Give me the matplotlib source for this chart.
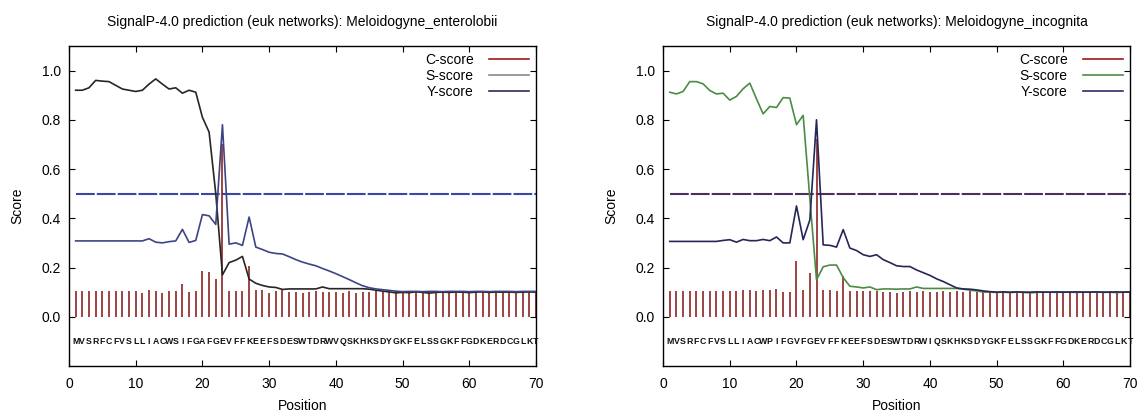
import numpy as np
import matplotlib
matplotlib.use("Agg")
import matplotlib.pyplot as plt

plt.rcParams['font.family'] = ['Liberation Sans', 'DejaVu Sans']

#%% data
positions = np.arange(1, 71)

titles = ["SignalP-4.0 prediction (euk networks): Meloidogyne_enterolobii",
          "SignalP-4.0 prediction (euk networks): Meloidogyne_incognita"]

seq_enterolobii = "MVSRFCFVSLLIACWSIFGAFGEVFFKEEFSDESWTDRWVQSKHKSDYGKFELSSGKFFGDKERDCGLKT"
seq_incognita = "MVSRFCFVSLLIACWPIFGVFGEVFFKEEFSDESWTDRWIQSKHKSDYGKFELSSGKFFGDKERDCGLKT"

c_enterolobii = [0.103, 0.103, 0.103, 0.103, 0.103, 0.103, 0.103, 0.103, 0.103, 0.103,
                 0.098, 0.107, 0.103, 0.097, 0.103, 0.103, 0.135, 0.100, 0.103, 0.186,
                 0.183, 0.155, 0.700, 0.103, 0.105, 0.103, 0.207, 0.110, 0.107, 0.098,
                 0.105, 0.107, 0.100, 0.100, 0.095, 0.100, 0.105, 0.100, 0.100, 0.100,
                 0.098, 0.105, 0.097, 0.100, 0.100, 0.105, 0.103, 0.100, 0.103, 0.103,
                 0.100, 0.103, 0.100, 0.103, 0.100, 0.103, 0.100, 0.102, 0.100, 0.103,
                 0.100, 0.103, 0.100, 0.102, 0.100, 0.103, 0.100, 0.100, 0.103, 0.100]
s_enterolobii = [0.920, 0.920, 0.930, 0.960, 0.957, 0.955, 0.940, 0.925, 0.920, 0.915,
                 0.920, 0.945, 0.966, 0.945, 0.925, 0.930, 0.908, 0.920, 0.912, 0.810,
                 0.750, 0.500, 0.170, 0.220, 0.230, 0.245, 0.153, 0.136, 0.127, 0.121,
                 0.119, 0.111, 0.113, 0.113, 0.113, 0.113, 0.113, 0.121, 0.114, 0.114,
                 0.114, 0.114, 0.114, 0.114, 0.112, 0.108, 0.104, 0.101, 0.097, 0.099,
                 0.098, 0.101, 0.099, 0.096, 0.099, 0.100, 0.099, 0.100, 0.100, 0.098,
                 0.100, 0.101, 0.099, 0.100, 0.100, 0.100, 0.099, 0.100, 0.101, 0.100]
y_enterolobii = [0.308, 0.308, 0.308, 0.308, 0.308, 0.308, 0.308, 0.308, 0.308, 0.308,
                 0.308, 0.317, 0.303, 0.300, 0.305, 0.308, 0.355, 0.302, 0.310, 0.415,
                 0.410, 0.375, 0.780, 0.295, 0.300, 0.290, 0.405, 0.283, 0.273, 0.262,
                 0.257, 0.255, 0.244, 0.232, 0.222, 0.214, 0.207, 0.196, 0.186, 0.175,
                 0.163, 0.151, 0.138, 0.126, 0.118, 0.113, 0.110, 0.107, 0.104, 0.102,
                 0.103, 0.103, 0.102, 0.103, 0.103, 0.102, 0.103, 0.103, 0.103, 0.102,
                 0.103, 0.103, 0.102, 0.103, 0.103, 0.103, 0.102, 0.103, 0.103, 0.103]

c_incognita = [0.103, 0.103, 0.103, 0.103, 0.103, 0.103, 0.103, 0.103, 0.103, 0.103,
               0.103, 0.107, 0.107, 0.103, 0.107, 0.107, 0.114, 0.100, 0.100, 0.228,
               0.107, 0.177, 0.720, 0.107, 0.110, 0.105, 0.165, 0.105, 0.105, 0.103,
               0.103, 0.103, 0.100, 0.100, 0.097, 0.100, 0.103, 0.100, 0.103, 0.100,
               0.100, 0.103, 0.100, 0.103, 0.100, 0.103, 0.100, 0.103, 0.100, 0.100,
               0.103, 0.100, 0.103, 0.100, 0.100, 0.103, 0.100, 0.100, 0.103, 0.100,
               0.103, 0.100, 0.100, 0.103, 0.100, 0.100, 0.103, 0.100, 0.100, 0.103]
s_incognita = [0.912, 0.905, 0.915, 0.955, 0.955, 0.946, 0.919, 0.905, 0.908, 0.880,
               0.895, 0.926, 0.949, 0.885, 0.824, 0.854, 0.850, 0.890, 0.888, 0.780,
               0.818, 0.480, 0.150, 0.203, 0.210, 0.210, 0.159, 0.124, 0.121, 0.117,
               0.121, 0.110, 0.113, 0.113, 0.112, 0.113, 0.113, 0.121, 0.115, 0.115,
               0.115, 0.115, 0.115, 0.115, 0.112, 0.108, 0.105, 0.100, 0.100, 0.099,
               0.100, 0.098, 0.100, 0.099, 0.097, 0.099, 0.100, 0.100, 0.099, 0.100,
               0.100, 0.099, 0.100, 0.100, 0.100, 0.099, 0.100, 0.098, 0.100, 0.100]
y_incognita = [0.306, 0.306, 0.306, 0.306, 0.306, 0.306, 0.306, 0.306, 0.310, 0.313,
               0.303, 0.314, 0.309, 0.309, 0.314, 0.309, 0.324, 0.300, 0.300, 0.450,
               0.313, 0.393, 0.800, 0.292, 0.290, 0.283, 0.354, 0.279, 0.269, 0.252,
               0.245, 0.252, 0.232, 0.220, 0.207, 0.204, 0.204, 0.190, 0.179, 0.168,
               0.154, 0.143, 0.130, 0.117, 0.113, 0.112, 0.109, 0.105, 0.102, 0.100,
               0.101, 0.100, 0.101, 0.100, 0.100, 0.101, 0.100, 0.100, 0.101, 0.100,
               0.100, 0.101, 0.100, 0.100, 0.101, 0.100, 0.100, 0.101, 0.100, 0.101]

cutoff = 0.5

panels = [
    (titles[0], seq_enterolobii, c_enterolobii, s_enterolobii, y_enterolobii,
     '#262626', '#3d4482', '#3a46a8', '#8a8a8a', '#2c2c5a'),
    (titles[1], seq_incognita, c_incognita, s_incognita, y_incognita,
     '#4b8c45', '#262657', '#4a2f5e', '#4b8c45', '#2c2c6a'),
]

#%% figure
fig = plt.figure(figsize=(11.42, 4.13), dpi=100)
axes_pos = [[0.0604, 0.1138, 0.409, 0.775],
            [0.5806, 0.1138, 0.409, 0.775]]

for k, (title, seq, c, s, y, s_col, y_col, cut_col, s_leg, y_leg) in enumerate(panels):
    ax = fig.add_axes(axes_pos[k])

    ax.vlines(positions, 0, c, color='#8b2424', lw=1.2, zorder=2)
    ax.plot(positions, s, color=s_col, lw=1.2, zorder=3)
    ax.plot(positions, y, color=y_col, lw=1.2, zorder=4)
    ax.plot([positions[0], positions[-1]], [cutoff, cutoff], color=cut_col,
            lw=1.5, dashes=(9, 1), zorder=1)

    # sequence under the zero line
    for p, aa in zip(positions, seq):
        ax.text(p, -0.1, aa, ha='center', va='center', fontsize=6.3,
                fontweight='bold', color='#111111')

    # legend drawn gnuplot-style: text right, sample after it
    handles = [plt.Line2D([], [], color='#a01818', lw=1.2),
               plt.Line2D([], [], color=s_leg, lw=1.2),
               plt.Line2D([], [], color=y_leg, lw=1.2)]
    ax.legend(handles, ['C-score', 'S-score', 'Y-score'], loc='upper right',
              frameon=False, markerfirst=False, fontsize=10, handlelength=2.9,
              handletextpad=1.1, labelspacing=0.15, borderaxespad=0.3,
              borderpad=0.2)

    ax.set_xlim(0, 70)
    ax.set_ylim(-0.2, 1.1)
    ax.set_xticks(np.arange(0, 71, 10))
    ax.set_yticks(np.arange(0, 1.01, 0.2))
    ax.set_yticklabels(['%.1f' % v for v in np.arange(0, 1.01, 0.2)])
    ax.tick_params(direction='in', top=True, right=True, length=4,
                   labelsize=10, width=0.8)
    ax.tick_params(axis='x', pad=8)
    ax.tick_params(axis='y', pad=6)
    for sp in ax.spines.values():
        sp.set_linewidth(1.0)

    ax.set_title(title, fontsize=10, pad=14)
    ax.set_xlabel('Position', fontsize=10, labelpad=6)
    ax.set_ylabel('Score', fontsize=10, labelpad=12)

fig.savefig('out.png', dpi=100)
